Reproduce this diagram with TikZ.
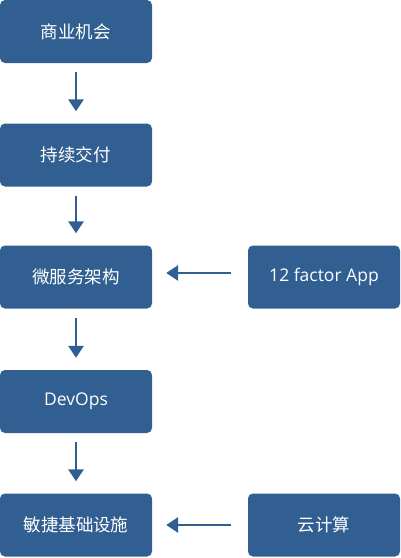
\documentclass[tikz,border=0pt]{standalone}
\usepackage{fontspec}
\setmainfont{Open Sans}
\newfontfamily\cjk{Noto Sans CJK SC}
\newfontfamily\lat{Open Sans}
\usetikzlibrary{arrows.meta}
\definecolor{boxblue}{RGB}{49,95,145}
\begin{document}
\begin{tikzpicture}[x=1pt,y=-1pt,
  box/.style={draw=none,fill=boxblue,rounded corners=5pt,minimum width=152pt,minimum height=63pt,
    text=white,font=\cjk\fontsize{17.5}{20}\selectfont,inner sep=0pt},
  latin/.style={font=\lat\fontsize{17.5}{20}\selectfont},
  arr/.style={draw=boxblue,line width=2.8pt,-{Triangle[width=15pt,length=12pt]}}]
\useasboundingbox (0,0) rectangle (400,558);
\node[box] (a) at (76,31.5) {商业机会};
\node[box] (b) at (76,155) {持续交付};
\node[box] (c) at (76,277) {微服务架构};
\node[box,latin] (d) at (76,401.5) {DevOps};
\node[box] (e) at (76,525) {敏捷基础设施};
\node[box,latin] (f) at (324,277) {12 factor App};
\node[box] (g) at (324,525) {云计算};
\draw[arr] ([yshift=-9]a.south) -- ([yshift=12]b.north);
\draw[arr] ([yshift=-9]b.south) -- ([yshift=12]c.north);
\draw[arr] ([yshift=-9]c.south) -- ([yshift=12]d.north);
\draw[arr] ([yshift=-9]d.south) -- ([yshift=12]e.north);
\draw[arr] ([xshift=-17,yshift=4]f.west) -- ([xshift=14,yshift=4]c.east);
\draw[arr] ([xshift=-17]g.west) -- ([xshift=14]e.east);
\end{tikzpicture}
\end{document}
